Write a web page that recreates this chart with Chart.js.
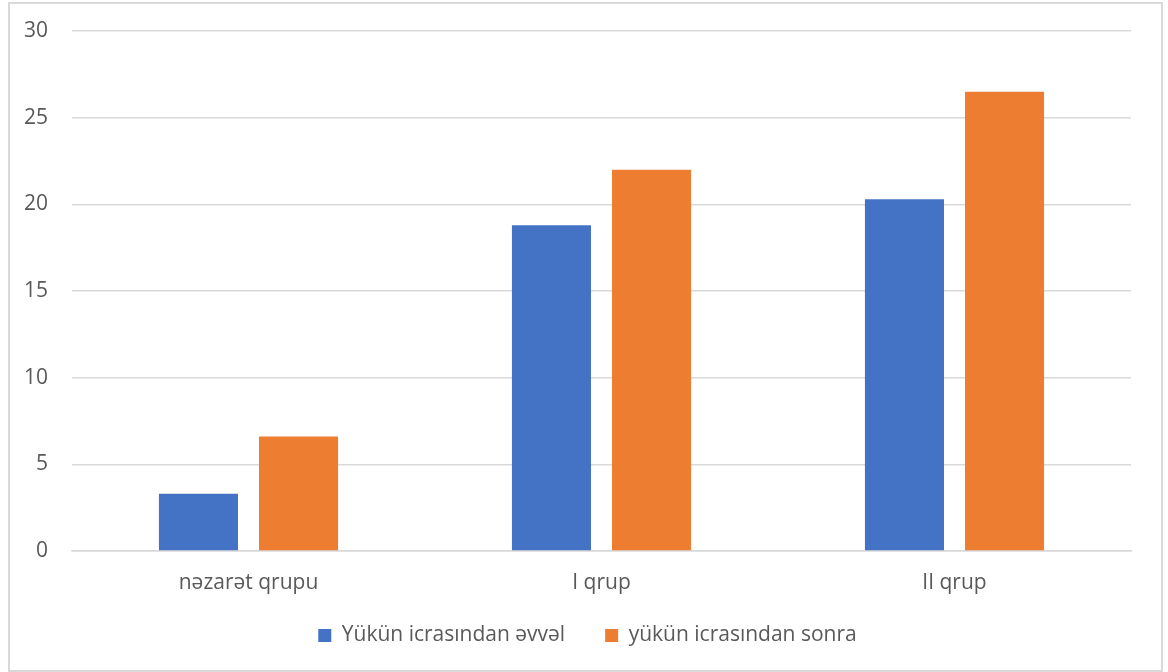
<!DOCTYPE html>
<html>
<head>
<meta charset="utf-8">
<script src="https://cdn.jsdelivr.net/npm/chart.js@4/dist/chart.umd.min.js"></script>
<style>
  html, body { margin: 0; padding: 0; background: #fff; }
  #wrap { position: relative; width: 1168px; height: 672px; }
  #frame { position: absolute; left: 8px; top: 2px; width: 1151px; height: 666px;
           border: 2px solid #d9d9d9; pointer-events: none; }
  canvas { position: absolute; left: 0; top: 0; }
</style>
</head>
<body>
<div id="wrap">
  <canvas id="c" width="1168" height="672"></canvas>
  <div id="frame"></div>
</div>
<script>
const categories = ['nəzarət qrupu', 'I qrup', 'II qrup'];
const seriesNames = ['Yükün icrasından əvvəl', 'yükün icrasından sonra'];
const beforeValues = [3.3, 18.8, 20.3];
const afterValues = [6.6, 22.0, 26.5];
const yTicks = [0, 5, 10, 15, 20, 25, 30];

const textColor = '#595959';
const gridColor = '#d9d9d9';
const fontFamily = '"Open Sans", "Noto Sans", sans-serif';
const fontSize = 21;

// Wide gaps between legend entries need a large label padding; pull the
// legend box back up under the axis labels and re-centre the row.
const legendNudge = {
  id: 'legendNudge',
  afterLayout(chart) {
    const lg = chart.legend;
    if (!lg) return;
    lg.top -= 16; lg.bottom -= 16;
    lg.left += 22; lg.right += 22;
  }
};

new Chart(document.getElementById('c'), {
  type: 'bar',
  data: {
    labels: categories,
    datasets: [
      { label: seriesNames[0], data: beforeValues, backgroundColor: '#4472C4' },
      { label: seriesNames[1], data: afterValues, backgroundColor: '#ED7D31' }
    ]
  },
  options: {
    responsive: false,
    animation: false,
    categoryPercentage: 0.567,
    barPercentage: 0.79,
    layout: { padding: { top: 31, right: 37, bottom: 1, left: 0 } },
    plugins: {
      tooltip: { enabled: false },
      legend: {
        position: 'bottom',
        maxHeight: 70,
        labels: {
          color: textColor,
          font: { family: fontFamily, size: fontSize },
          boxWidth: 13,
          boxHeight: 13,
          padding: 40
        }
      }
    },
    scales: {
      x: {
        grid: { display: false, drawTicks: false },
        border: { display: true, color: gridColor, width: 1.5 },
        ticks: { color: textColor, font: { family: fontFamily, size: fontSize }, padding: 19 },
        afterFit: (s) => { s.height = 50; }
      },
      y: {
        min: 0,
        max: 30,
        afterBuildTicks: (s) => { s.ticks = yTicks.map(v => ({ value: v })); },
        grid: { color: gridColor, lineWidth: 1.5, drawTicks: false },
        border: { display: false },
        ticks: { color: textColor, font: { family: fontFamily, size: fontSize }, padding: 24 },
        afterFit: (s) => { s.width = 72; s.paddingTop = 0; s.paddingBottom = 0; }
      }
    }
  },
  plugins: [legendNudge]
});
</script>
</body>
</html>
